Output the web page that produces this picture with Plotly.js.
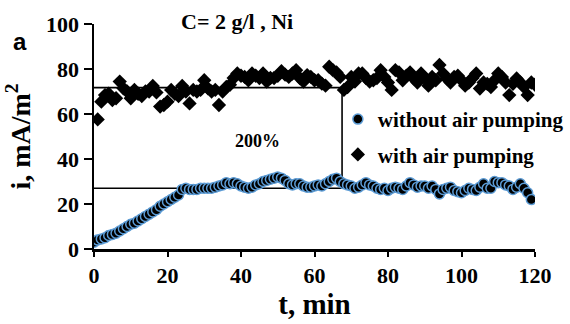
<!DOCTYPE html>
<html>
<head>
<meta charset="utf-8">
<script src="https://cdn.plot.ly/plotly-3.0.1.min.js"></script>
<style>html,body{margin:0;padding:0;background:#fff}#chart{width:570px;height:324px}</style>
</head>
<body>
<div id="chart"></div>
<script>
// Without air pumping (circles), t = 0..119 min
const tWithout = [];
for (let k = 0; k <= 119; k++) tWithout.push(k);
const iWithout = [
  3, 4, 4.5, 5, 6, 6.5, 7, 8, 9, 10,
  11, 11.5, 12.5, 13.5, 14.5, 15.5, 16.5, 17.5, 19, 20,
  21, 22, 23, 24, 26.5, 27, 26.5, 26.5, 26.5, 27,
  27, 27, 27, 27.5, 28, 28.5, 29.5, 29, 29.5, 29,
  28, 27.5, 27, 27.5, 28.5, 29, 30, 30.5, 31, 31.5,
  32, 31.5, 30.5, 29, 28.5, 29, 29, 28, 27.5, 27.5,
  28, 28.5, 28, 29, 30, 31, 31.5, 30, 29, 28.5,
  28, 27, 27.5, 28.5, 29.5, 28.5, 28, 27, 26.5, 27,
  26, 27, 27.5, 27, 26.5, 28, 29.5, 28.5, 27.5, 28,
  28, 27, 28, 26.5, 24.5, 26.5, 27, 27.5, 26, 25.5,
  25, 26, 27, 26.5, 26, 27.5, 29, 27, 27, 30,
  29.5, 29.5, 28.5, 28, 26.5, 27.5, 29, 27, 25, 22
];
// With air pumping (diamonds), t = 1..120 min
const tWith = [];
for (let k = 1; k <= 120; k++) tWith.push(k);
const iWith = [
  57.6, 65.5, 68.4, 69, 66.2, 67, 74.4, 71.4, 70, 67,
  70.7, 69, 68, 70, 70, 72.5, 69.6, 63.3, 64, 65.5,
  70.7, 69, 68, 72.5, 70, 64.7, 70.7, 70, 70.7, 75,
  71.4, 70, 70.7, 64, 70, 72, 73, 76, 78, 77,
  76.5, 75, 78, 77, 76, 78, 74.4, 76, 76, 77,
  79, 77.5, 76.5, 78, 79.5, 76, 74.4, 77.3, 76.5, 75,
  75, 73.5, 72.6, 81, 79.5, 78.5, 76.5, 70.7, 72, 76.5,
  74.4, 78, 78, 76, 74.4, 75, 76, 79.5, 76.5, 74,
  70.7, 79.5, 78.5, 75, 77, 78.5, 75.8, 74, 78, 76,
  72.6, 76.5, 75, 81.8, 78, 75.8, 74, 76.5, 77, 75,
  72.6, 74, 76, 78, 71.3, 74, 73.4, 72, 75, 78,
  76.5, 74, 68.4, 73.4, 75.8, 74, 72, 68.4, 74, 73
];
// Guide lines drawn on the chart
const guideT = [0, 67.5, 67.5, 0];
const guideI = [71.7, 71.7, 27, 27];
const xTicks = [0, 20, 40, 60, 80, 100, 120];
const yTicks = [0, 20, 40, 60, 80, 100];
const seriesNames = ['without air pumping', 'with air pumping'];

const serif = 'Liberation Serif, Times New Roman, serif';

const traces = [
  {
    x: guideT, y: guideI, mode: 'lines', type: 'scatter',
    line: {color: '#000', width: 1.6}, showlegend: false, hoverinfo: 'skip'
  },
  {
    x: tWith, y: iWith, mode: 'markers', type: 'scatter', name: seriesNames[1],
    legendgroup: 'b', legendrank: 2,
    marker: {symbol: 'diamond', size: 11, color: '#000', line: {width: 0}}
  },
  {
    x: tWithout, y: iWithout, mode: 'markers', type: 'scatter', name: seriesNames[0],
    legendgroup: 'a', legendrank: 1,
    marker: {symbol: 'circle', size: 10, color: '#000', line: {color: '#5b9bd5', width: 1.5}}
  }
];

const layout = {
  width: 570, height: 324,
  margin: {l: 94, r: 35, t: 24, b: 75, autoexpand: false},
  paper_bgcolor: '#fff', plot_bgcolor: '#fff',
  font: {family: serif, color: '#000'},
  xaxis: {
    range: [0, 120], tickvals: xTicks, ticktext: xTicks.map(String),
    showgrid: false, zeroline: false, showline: true, linecolor: '#000', linewidth: 2.5,
    ticks: 'outside', ticklen: 5, tickwidth: 2, tickcolor: '#000',
    tickfont: {family: serif, size: 22, weight: 'bold'},
    title: {text: 't, min', font: {family: serif, size: 29, weight: 'bold'}, standoff: 6}
  },
  yaxis: {
    range: [0, 100], tickvals: yTicks, ticktext: yTicks.map(String),
    showgrid: false, zeroline: false, showline: true, linecolor: '#000', linewidth: 2.5,
    ticks: 'outside', ticklen: 8, tickwidth: 2, tickcolor: '#000',
    tickfont: {family: serif, size: 22, weight: 'bold'},
    title: {text: 'i, mA/m<sup>2</sup>', font: {family: serif, size: 28, weight: 'bold'}, standoff: 8}
  },
  showlegend: true,
  legend: {
    x: 0.553, y: 0.667, xanchor: 'left', yanchor: 'top',
    bgcolor: 'rgba(0,0,0,0)', borderwidth: 0,
    traceorder: 'grouped', tracegroupgap: 5,
    font: {family: serif, size: 21, weight: 'bold'}
  },
  annotations: [
    {xref: 'paper', yref: 'paper', x: 0.324, y: 1.01, xanchor: 'center', yanchor: 'middle',
     text: 'C= 2 g/l , Ni', showarrow: false, font: {family: serif, size: 22, weight: 'bold'}},
    {xref: 'x', yref: 'y', x: 44.6, y: 48, text: '200%', showarrow: false,
     font: {family: serif, size: 18, weight: 'bold'}},
    {xref: 'paper', yref: 'paper', x: -0.168, y: 0.92, xanchor: 'center', yanchor: 'middle',
     text: 'a', showarrow: false,
     font: {family: 'Liberation Sans, Arial, sans-serif', size: 24, weight: 'bold'}}
  ]
};

Plotly.newPlot('chart', traces, layout, {displayModeBar: false, staticPlot: true});
</script>
</body>
</html>
